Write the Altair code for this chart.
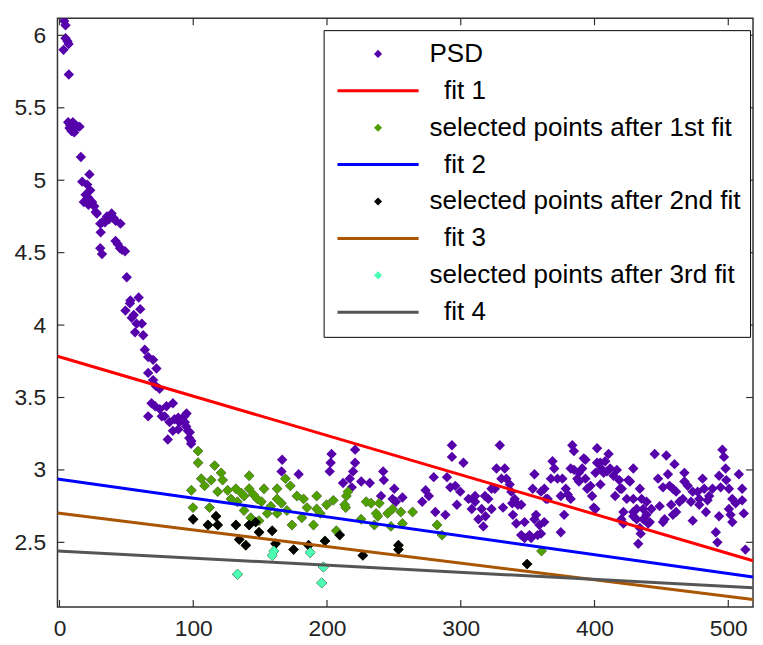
import altair as alt
import pandas as pd

# ---------------- data ----------------
series_names = ["PSD", "fit 1", "selected points after 1st fit", "fit 2",
                "selected points after 2nd fit", "fit 3",
                "selected points after 3rd fit", "fit 4"]
series_colors = ["#5500AA", "#FF0000", "#50A000", "#0000FF",
                 "#000000", "#AA5500", "#4DFFB3", "#555555"]
point_series = ["PSD", "selected points after 1st fit",
                "selected points after 2nd fit", "selected points after 3rd fit"]

# PSD points only shown in purple (decay part)
psd_decay_x = [3.0, 3.5, 4.5, 4.5, 6.0, 6.8, 7.0, 6.5, 7.5, 8.0,
               9.0, 10.0, 11.0, 12.0, 13.5, 15.0, 16.0, 17.0, 18.2, 19.5,
               20.7, 21.5, 21.7, 22.4, 23.0, 24.4, 26.0, 27.1, 28.0, 30.5,
               30.8, 30.5, 31.8, 32.0, 34.0, 35.5, 37.0, 39.0, 40.5, 42.0,
               41.9, 43.5, 45.3, 45.6, 46.8, 49.0, 50.3, 49.3, 52.7, 53.0,
               54.0, 55.5, 56.5, 57.7, 59.2, 60.4, 61.6, 62.6, 63.8, 66.3,
               70.0, 72.5, 66.3, 70.0, 74.8, 72.0, 68.8, 66.3, 71.5, 75.0,
               76.5, 78.6, 80.0, 81.0, 82.3, 84.8, 84.8, 86.0, 88.8, 88.8,
               89.7, 93.4, 93.7, 94.7, 95.0, 96.0, 97.0, 97.4, 98.4, 98.6]
psd_decay_y = [5.90, 6.10, 6.07, 5.98, 5.96, 5.94, 5.73, 5.40, 5.36, 5.38,
               5.34, 5.40, 5.33, 5.38, 5.37, 5.37, 5.16, 4.99, 4.85, 4.90,
               4.97, 4.88, 4.83, 5.04, 4.93, 4.85, 4.82, 4.78, 4.77, 4.70,
               4.64, 4.53, 4.49, 4.71, 4.71, 4.75, 4.73, 4.77, 4.74, 4.72,
               4.58, 4.56, 4.53, 4.70, 4.52, 4.51, 4.33, 4.10, 4.15, 4.17,
               4.05, 4.07, 3.95, 4.01, 4.19, 4.11, 4.01, 3.93, 3.83, 3.78,
               3.76, 3.70, 3.67, 3.62, 3.56, 3.58, 3.46, 3.37, 3.44, 3.42,
               3.37, 3.37, 3.44, 3.21, 3.33, 3.46, 3.27, 3.35, 3.36, 3.28,
               3.33, 3.37, 3.33, 3.30, 3.39, 3.27, 3.22, 3.26, 3.18, 3.20]

# PSD points only shown in purple (middle part)
psd_mid_x = [166.5, 166.0, 178.8, 203.4, 202.7, 202.0, 221.0, 221.0, 219.5, 212.0,
             217.0, 218.5, 225.6, 232.0, 242.0, 242.5, 250.3, 240.4, 249.0, 256.4,
             251.5, 273.7, 276.1, 271.2, 279.8, 281.0, 288.5, 289.7, 292.2, 293.4,
             293.4]
psd_mid_y = [3.07, 2.99, 2.97, 3.11, 3.05, 2.99, 3.14, 3.05, 2.99, 2.91,
             2.94, 2.88, 2.92, 2.91, 2.99, 2.93, 2.87, 2.82, 2.80, 2.81,
             2.78, 2.86, 2.82, 2.78, 2.95, 2.71, 2.69, 2.95, 2.88, 3.17,
             3.09]

# PSD points only shown in purple (flat tail)
psd_tail_x = [299.6, 302.0, 305.8, 310.7, 315.6, 313.2, 316.9, 320.6, 323.0, 326.7,
              332.9, 334.1, 336.6, 325.5, 331.6, 340.3, 342.7, 339.0, 341.5, 347.7,
              355.1, 353.8, 356.3, 358.8, 351.4, 347.7, 360.0, 362.5, 368.6, 369.9,
              372.3, 365.0, 374.8, 378.5, 377.3, 374.8, 382.2, 383.4, 384.7, 388.4,
              392.0, 390.8, 394.5, 401.9, 401.9, 400.7, 404.4, 329.2, 295.9, 297.1,
              310.7, 318.5, 308.2, 318.1, 323.0, 330.4, 337.8, 338.5, 345.2, 345.2,
              352.6, 355.1, 357.5, 362.4, 360.0, 363.7, 367.4, 376.0, 380.0, 384.6,
              382.2, 388.3, 387.1, 393.2, 393.2, 397.0, 398.2, 399.4, 405.0, 406.8,
              410.5, 411.7, 414.2, 416.7, 419.1, 415.4, 421.6, 424.1, 429.0, 426.5,
              433.9, 429.0, 431.5, 433.9, 432.7, 436.4, 438.9, 441.3, 445.0, 447.5,
              448.7, 451.2, 453.7, 454.9, 456.1, 459.8, 461.0, 463.5, 467.2, 469.7,
              472.1, 473.4, 477.1, 480.8, 482.0, 478.3, 485.7, 483.3, 490.7, 491.9,
              494.3, 493.1, 495.6, 496.8, 498.0, 500.5, 503.0, 501.7, 503.0, 507.9,
              510.4, 511.6, 512.8, 510.4, 404.3, 409.3, 408.0, 418.5, 425.3, 420.4,
              429.0, 435.2, 431.5, 436.4, 442.5, 451.2, 458.6, 467.2, 473.4, 478.3,
              484.5, 488.2, 466.0, 457.3, 461.0, 434.5, 493.1, 498.5, 505.5, 500.5,
              420.0, 421.6, 429.0, 438.9, 440.1, 452.4, 458.6, 400.6]
psd_tail_y = [2.85, 3.05, 2.80, 2.82, 2.73, 2.66, 2.61, 2.80, 2.73, 3.01,
              3.01, 2.94, 2.90, 2.87, 2.74, 2.80, 2.76, 2.69, 2.63, 2.64,
              2.97, 2.87, 2.69, 2.62, 2.55, 2.53, 2.56, 2.87, 3.06, 3.01,
              2.94, 2.80, 2.82, 2.87, 2.69, 2.57, 2.80, 3.17, 3.00, 2.92,
              3.08, 3.01, 2.87, 3.15, 3.05, 2.98, 2.90, 3.17, 2.89, 2.76,
              2.78, 2.68, 2.73, 2.82, 2.87, 2.94, 2.85, 2.77, 2.76, 2.55,
              2.53, 2.66, 2.55, 2.64, 2.85, 2.80, 2.94, 2.94, 2.83, 3.13,
              3.01, 2.98, 2.94, 3.07, 2.94, 2.89, 2.82, 2.74, 3.01, 2.98,
              3.11, 3.01, 2.96, 3.00, 2.87, 2.82, 2.71, 2.80, 3.01, 2.92,
              2.87, 2.71, 2.66, 2.60, 2.49, 2.66, 2.78, 2.64, 3.11, 2.94,
              2.75, 2.64, 3.10, 2.97, 2.89, 3.04, 2.85, 2.78, 2.98, 2.89,
              2.78, 2.65, 2.85, 2.94, 2.87, 2.76, 2.82, 2.71, 2.57, 2.50,
              2.88, 2.96, 3.14, 3.09, 3.01, 2.87, 2.80, 2.69, 2.64, 2.97,
              2.87, 2.70, 2.45, 2.79, 3.05, 2.99, 3.06, 2.93, 2.93, 2.87,
              2.80, 2.80, 2.73, 2.73, 2.73, 2.88, 2.87, 2.92, 2.85, 2.80,
              2.79, 2.87, 2.80, 2.76, 2.71, 2.56, 2.68, 2.93, 2.77, 2.73,
              2.66, 2.63, 2.68, 2.69, 2.63, 2.66, 2.69, 2.73]

# points selected after 1st fit (green only)
sel1_x = [103.6, 103.6, 116.0, 120.8, 106.0, 113.4, 122.0, 98.6, 108.5, 118.3,
          125.7, 131.9, 141.8, 141.8, 152.9, 162.7, 168.9, 172.6, 128.2, 138.0,
          147.9, 162.7, 177.5, 182.5, 192.3, 99.8, 112.2, 138.0, 155.3, 162.7,
          192.3, 199.7, 204.7, 213.2, 214.5, 143.0, 149.2, 173.8, 181.2, 189.9,
          207.0, 215.7, 225.5, 229.3, 233.0, 236.7, 239.1, 245.3, 249.0, 255.2,
          264.0, 235.4, 247.8, 256.4, 282.3, 286.0, 360.4, 238.0, 133.0, 136.0,
          145.0, 151.0, 158.0, 166.0, 170.0, 185.0, 195.0, 214.0]
sel1_y = [3.13, 3.05, 3.03, 2.98, 2.94, 2.93, 2.93, 2.86, 2.89, 2.85,
          2.86, 2.87, 2.96, 2.87, 2.87, 2.87, 2.94, 2.89, 2.80, 2.82,
          2.80, 2.80, 2.82, 2.80, 2.82, 2.74, 2.74, 2.72, 2.70, 2.70,
          2.73, 2.76, 2.79, 2.76, 2.82, 2.67, 2.65, 2.62, 2.67, 2.62,
          2.58, 2.85, 2.66, 2.78, 2.77, 2.70, 2.77, 2.70, 2.73, 2.71,
          2.71, 2.62, 2.61, 2.63, 2.62, 2.55, 2.44, 2.68, 2.78, 2.84,
          2.83, 2.78, 2.75, 2.77, 2.72, 2.74, 2.70, 2.74]

# points selected after 2nd fit (black only)
sel2_x = [99.9, 117.0, 111.0, 118.3, 131.9, 141.8, 146.7, 149.2, 159.0, 134.4,
          139.3, 161.5, 175.0, 186.2, 198.5, 209.5, 226.8, 253.4, 253.4, 349.6]
sel2_y = [2.66, 2.68, 2.62, 2.62, 2.62, 2.62, 2.64, 2.57, 2.58, 2.52,
          2.48, 2.49, 2.45, 2.48, 2.51, 2.55, 2.41, 2.48, 2.45, 2.35]

# points selected after 3rd fit (cyan)
sel3_x = [133.1, 159.0, 160.3, 187.4, 196.0, 197.3]
sel3_y = [2.28, 2.41, 2.44, 2.43, 2.22, 2.33]

# fitted straight lines, given at the two ends of the x range
fit_x = [-1.5, 518.5]
fit1_y = [3.785, 2.373]
fit2_y = [2.938, 2.261]
fit3_y = [2.703, 2.106]
fit4_y = [2.441, 2.186]

x_ticks = [0, 100, 200, 300, 400, 500]
y_ticks = [2.5, 3, 3.5, 4, 4.5, 5, 5.5, 6]
x_domain = [-1.5, 518.5]
y_domain = [2.054, 6.118]

# ---------------- tables ----------------
sel3_all = list(zip(sel3_x, sel3_y))
sel2_all = list(zip(sel2_x, sel2_y)) + sel3_all
sel1_all = list(zip(sel1_x, sel1_y)) + sel2_all
psd_all = (list(zip(psd_decay_x, psd_decay_y)) + list(zip(psd_mid_x, psd_mid_y))
           + list(zip(psd_tail_x, psd_tail_y)) + sel1_all)

rows = []
for name, pts in [("PSD", psd_all), ("selected points after 1st fit", sel1_all),
                  ("selected points after 2nd fit", sel2_all),
                  ("selected points after 3rd fit", sel3_all)]:
    for xv, yv in pts:
        rows.append({"series": name, "x": xv, "y": yv})
points_df = pd.DataFrame(rows)

line_rows = []
for name, ys in [("fit 1", fit1_y), ("fit 2", fit2_y), ("fit 3", fit3_y), ("fit 4", fit4_y)]:
    for xv, yv in zip(fit_x, ys):
        line_rows.append({"series": name, "x": xv, "y": yv})
lines_df = pd.DataFrame(line_rows)

# ---------------- encodings ----------------
FONT = "Liberation Sans"
FRAME = "#333333"

X = alt.X("x:Q", title=None,
          scale=alt.Scale(domain=x_domain, nice=False, zero=False),
          axis=alt.Axis(values=x_ticks, grid=False, ticks=False, tickSize=0, domain=False,
                        format="d", labelFont=FONT, labelFontSize=23, labelColor="#222222",
                        labelPadding=11, labelFlush=False))
Y = alt.Y("y:Q", title=None,
          scale=alt.Scale(domain=y_domain, nice=False, zero=False),
          axis=alt.Axis(values=y_ticks, grid=False, ticks=False, tickSize=0, domain=False,
                        format="~g", labelFont=FONT, labelFontSize=23, labelColor="#222222",
                        labelPadding=12, labelFlush=False))

color_scale = alt.Scale(domain=series_names, range=series_colors)

line_path = "M-1,-0.037L1,-0.037L1,0.037L-1,0.037Z"
diamond_path = "M0,-0.1L0.1,0L0,0.1L-0.1,0Z"
legend_shapes = [diamond_path if s in point_series else line_path for s in series_names]

# zero-width space keeps the two leading spaces from being trimmed
lead = "\u200b\u00a0\u00a0"
legend = alt.Legend(
    title=None, orient="none", legendX=269, legendY=12,
    fillColor="white", strokeColor="black", padding=9,
    labelFont=FONT, labelFontSize=26.3, labelColor="black", labelLimit=1000,
    labelOffset=11, symbolOffset=5, symbolSize=6724, symbolStrokeWidth=0, symbolOpacity=1,
    clipHeight=30, rowPadding=7.3, direction="vertical",
    labelExpr="indexof(datum.label, 'fit') === 0 ? '" + lead + "' + datum.label : datum.label",
)

# layer that only carries the legend (no marks drawn); placed first so its legend wins
legend_layer = alt.Chart(points_df).transform_filter("false").mark_point(
    filled=True, opacity=1, size=6724).encode(
    x=X, y=Y,
    color=alt.Color("series:N", scale=color_scale, legend=legend),
    shape=alt.Shape("series:N", scale=alt.Scale(domain=series_names, range=legend_shapes),
                    legend=legend),
)

layers = [legend_layer]
for name in series_names:
    if name in point_series:
        layer = alt.Chart(points_df).transform_filter(
            alt.datum.series == name
        ).mark_point(shape="diamond", filled=True, size=110, opacity=1, clip=True).encode(
            x=X, y=Y, color=alt.Color("series:N", scale=color_scale, legend=None))
    else:
        layer = alt.Chart(lines_df).transform_filter(
            alt.datum.series == name
        ).mark_line(strokeWidth=3, clip=True).encode(
            x=X, y=Y, color=alt.Color("series:N", scale=color_scale, legend=None))
    layers.append(layer)

# inward ticks on all four sides
xt_df = pd.DataFrame({"x": x_ticks})
yt_df = pd.DataFrame({"y": y_ticks})
tick_len = 7
W, H = 703, 595
tick_bottom = alt.Chart(xt_df).mark_rule(color=FRAME, strokeWidth=1.2).encode(
    x=X, y=alt.value(H), y2=alt.value(H - tick_len))
tick_top = alt.Chart(xt_df).mark_rule(color=FRAME, strokeWidth=1.2).encode(
    x=X, y=alt.value(0), y2=alt.value(tick_len))
tick_left = alt.Chart(yt_df).mark_rule(color=FRAME, strokeWidth=1.2).encode(
    y=Y, x=alt.value(0), x2=alt.value(tick_len))
tick_right = alt.Chart(yt_df).mark_rule(color=FRAME, strokeWidth=1.2).encode(
    y=Y, x=alt.value(W), x2=alt.value(W - tick_len))

chart = alt.layer(*layers, tick_bottom, tick_top, tick_left, tick_right).properties(
    width=W, height=H,
    autosize=alt.AutoSizeParams(type="none"),
    padding={"left": 50, "top": 7, "right": 2, "bottom": 30},
    background="white",
).configure_view(stroke=FRAME, strokeWidth=1.5)

chart.save("out.html", embed_options={"renderer": "svg", "actions": False})
